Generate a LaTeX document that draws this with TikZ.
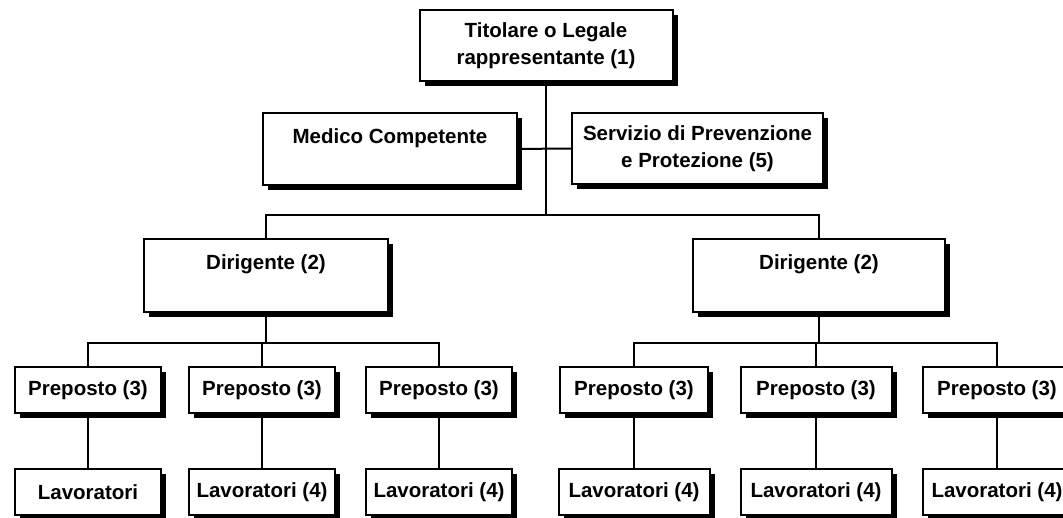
\documentclass[tikz,border=0pt]{standalone}
\usepackage{fontspec}
\setmainfont{Liberation Sans}
\usepackage{tikz}
\usetikzlibrary{shadows}

\begin{document}
\begin{tikzpicture}[x=1pt, y=-1pt,
    every node/.style={font=\fontsize{20.5}{26.5}\selectfont\bfseries},
    box/.style={draw, line width=2pt, fill=white, align=center, inner sep=0pt,
      drop shadow={shadow xshift=5pt, shadow yshift=-5pt, fill=black, opacity=1}},
    link/.style={line width=2pt}]
  \useasboundingbox (0,0) rectangle (1063,518);

  % vertici
  \node[box, minimum width=253pt, minimum height=71pt] (tit) at (546,45.5) {Titolare o Legale\\rappresentante (1)};
  \node[box, minimum width=254pt, minimum height=72pt] (med) at (390,149) {Medico Competente\\~};
  \node[box, minimum width=251pt, minimum height=71pt] (srv) at (697.5,148.5) {Servizio di Prevenzione\\e Protezione (5)};

  \node[box, minimum width=244pt, minimum height=73pt] (dirL) at (266,275.5) {Dirigente (2)\\~};
  \node[box, minimum width=252pt, minimum height=73pt] (dirR) at (819,275.5) {Dirigente (2)\\~};

  \node[box, minimum width=146pt, minimum height=46pt] (pL1) at (88,390) {Preposto (3)};
  \node[box, minimum width=146pt, minimum height=46pt] (pL2) at (262,390) {Preposto (3)};
  \node[box, minimum width=146pt, minimum height=46pt] (pL3) at (439,390) {Preposto (3)};
  \node[box, minimum width=148pt, minimum height=46pt] (pR1) at (634,390) {Preposto (3)};
  \node[box, minimum width=151pt, minimum height=46pt] (pR2) at (816,390) {Preposto (3)};
  \node[box, minimum width=148pt, minimum height=46pt] (pR3) at (997,390) {Preposto (3)};

  \node[box, minimum width=146pt, minimum height=46pt] (lL1) at (88,492) {Lavoratori};
  \node[box, minimum width=146pt, minimum height=46pt] (lL2) at (262,492) {Lavoratori (4)};
  \node[box, minimum width=146pt, minimum height=46pt] (lL3) at (439,492) {Lavoratori (4)};
  \node[box, minimum width=151pt, minimum height=46pt] (lR1) at (634,492) {Lavoratori (4)};
  \node[box, minimum width=151pt, minimum height=46pt] (lR2) at (816,492) {Lavoratori (4)};
  \node[box, minimum width=148pt, minimum height=46pt] (lR3) at (997,492) {Lavoratori (4)};

  % punti di diramazione
  \coordinate (busT) at (546,215);
  \coordinate (busL) at (266,343);
  \coordinate (busR) at (819,343);

  % collegamenti
  \draw[link] (tit) -- (busT);
  \draw[link] (med) -- (srv);
  \draw[link] (busT) -| (dirL);
  \draw[link] (busT) -| (dirR);

  \draw[link] (dirL) -- (busL);
  \draw[link] (busL) -| (pL1);
  \draw[link] (busL) -| (pL2);
  \draw[link] (busL) -| (pL3);
  \draw[link] (dirR) -- (busR);
  \draw[link] (busR) -| (pR1);
  \draw[link] (busR) -| (pR2);
  \draw[link] (busR) -| (pR3);

  \draw[link] (pL1) -- (lL1);
  \draw[link] (pL2) -- (lL2);
  \draw[link] (pL3) -- (lL3);
  \draw[link] (pR1) -- (lR1);
  \draw[link] (pR2) -- (lR2);
  \draw[link] (pR3) -- (lR3);
\end{tikzpicture}
\end{document}
